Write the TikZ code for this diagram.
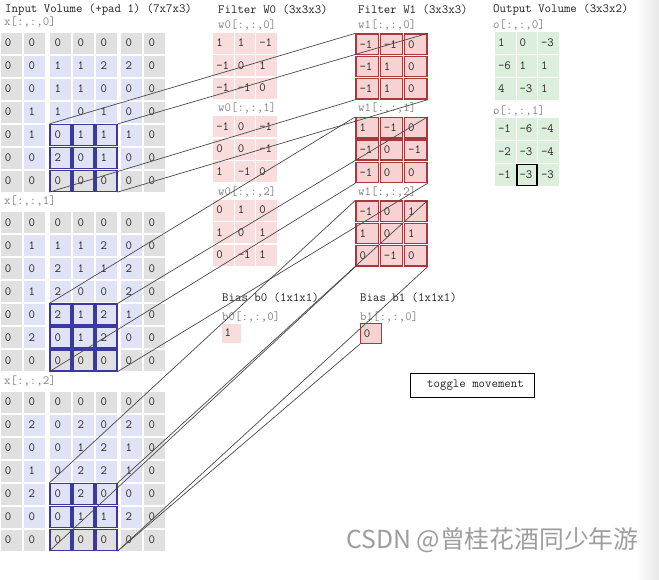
\documentclass[tikz,border=0pt]{standalone}
\usepackage{fontspec}
\newfontfamily\cjkfont{Noto Sans CJK SC}
\usetikzlibrary{fit}
\definecolor{padgrey}{HTML}{E0E0E0}
\definecolor{inblue}{HTML}{E0E2F6}
\definecolor{winblue}{HTML}{3A3A9E}
\definecolor{wpink}{HTML}{F9DCDC}
\definecolor{w1pink}{HTML}{F6D2D2}
\definecolor{wred}{HTML}{A8383C}
\definecolor{opgreen}{HTML}{DCEEDC}
\definecolor{lblgrey}{HTML}{858585}
\definecolor{titlegrey}{HTML}{222222}
\definecolor{linegrey}{HTML}{4A4A4A}

\tikzset{
  cellbase/.style={rectangle, inner ysep=0pt, align=left, text=black!85},
  incell/.style={cellbase, text width=12pt, inner xsep=4.5pt, minimum height=21pt},
  wincell/.style={draw=winblue, line width=1.2pt},
  wcell/.style={cellbase, fill=wpink, text width=14.5pt, inner xsep=3pt, minimum height=21pt},
  wonecell/.style={cellbase, fill=w1pink, draw=wred, line width=1.4pt, text width=15.3pt, inner xsep=3.5pt, minimum height=20.3pt},
  ocell/.style={cellbase, fill=opgreen, text width=15pt, inner xsep=2.75pt, minimum height=22pt},
  lbl/.style={anchor=west, inner sep=0pt, text=lblgrey},
  ttl/.style={anchor=west, inner sep=0pt, text=titlegrey},
  conn/.style={draw=linegrey, line width=0.7pt},
  fitbox/.style={inner sep=0pt, outer sep=0pt}
}

\newcommand{\inslice}[2]{%
  \node[lbl] (xl#1) at (4, 22+179.5*#1) {x[:,:,#1]};
  \foreach \rw [count=\rr from 0] in {#2} {
    \foreach \v [count=\cc from 0] in \rw {
      \pgfmathtruncatemacro\pad{(\rr==0)||(\rr==6)||(\cc==0)||(\cc==6)}
      \pgfmathtruncatemacro\inwin{(\rr>3)&&(\cc>1)&&(\cc<5)}
      \pgfmathsetmacro\cx{{11,34.5,60.5,83.5,106.5,131.5,154.5}[\cc]}
      \ifnum\pad=1 \def\fc{padgrey}\else\def\fc{inblue}\fi
      \ifnum\inwin=1 \tikzset{curwin/.style={wincell}}\else\tikzset{curwin/.style={}}\fi
      \node[incell, fill=\fc, curwin] (x#1-\rr-\cc) at (\cx,{43+179.5*#1+23*\rr}) {\v};
    }
  }
  \node[fitbox, fit=(x#1-4-2)(x#1-6-4)] (win#1) {};
}

\newcommand{\wzslice}[2]{%
  \node[lbl] (w0l#1) at (218, 25+83.5*#1) {w0[:,:,#1]};
  \foreach \rw [count=\rr from 0] in {#2} {
    \foreach \v [count=\cc from 0] in \rw {
      \node[wcell] (w0-#1-\rr-\cc) at ({223.5+21.5*\cc},{43+83.5*#1+22.5*\rr}) {\v};
    }
  }
}

\newcommand{\woslice}[2]{%
  \node[lbl] (w1l#1) at (358, 25+83.5*#1) {w1[:,:,#1]};
  \foreach \rw [count=\rr from 0] in {#2} {
    \foreach \v [count=\cc from 0] in \rw {
      \node[wonecell] (w1-#1-\rr-\cc) at ({367.2+24.33*\cc},{44.2+83.5*#1+22.33*\rr}) {\v};
    }
  }
  \node[fitbox, fit=(w1-#1-0-0)(w1-#1-2-2)] (w1box#1) {};
}

\newcommand{\oslice}[2]{%
  \node[lbl] (ol#1) at (493, 25+86*#1) {o[:,:,#1]};
  \foreach \rw [count=\rr from 0] in {#2} {
    \foreach \v [count=\cc from 0] in \rw {
      \node[ocell] (o-#1-\rr-\cc) at ({505.5+21.5*\cc},{43+86*#1+23*\rr}) {\v};
    }
  }
}

\begin{document}
\begin{tikzpicture}[x=1pt, y=-1pt, font=\ttfamily\fontsize{12.5}{14}\selectfont]
\useasboundingbox (0,0) rectangle (659,579);
\fill[white] (0,0) rectangle (659,579);
\shade[left color=white, right color=black!9] (636,0) rectangle (659,579);

% titles
\node[ttl] (t1) at (5,10) {Input Volume (+pad 1) (7x7x3)};
\node[ttl] (t2) at (218,10) {Filter W0 (3x3x3)};
\node[ttl] (t3) at (358,10) {Filter W1 (3x3x3)};
\node[ttl] (t4) at (493,10) {Output Volume (3x3x2)};

% input volume
\inslice{0}{{0,0,0,0,0,0,0},{0,0,1,1,2,2,0},{0,0,1,1,0,0,0},{0,1,1,0,1,0,0},{0,1,0,1,1,1,0},{0,0,2,0,1,0,0},{0,0,0,0,0,0,0}}
\inslice{1}{{0,0,0,0,0,0,0},{0,1,1,1,2,0,0},{0,0,2,1,1,2,0},{0,1,2,0,0,2,0},{0,0,2,1,2,1,0},{0,2,0,1,2,0,0},{0,0,0,0,0,0,0}}
\inslice{2}{{0,0,0,0,0,0,0},{0,2,0,2,0,2,0},{0,0,0,1,2,1,0},{0,1,0,2,2,1,0},{0,2,0,2,0,0,0},{0,0,0,1,1,2,0},{0,0,0,0,0,0,0}}

% filter W0
\wzslice{0}{{1,1,-1},{-1,0,1},{-1,-1,0}}
\wzslice{1}{{-1,0,-1},{0,0,-1},{1,-1,0}}
\wzslice{2}{{0,1,0},{1,0,1},{0,-1,1}}

% filter W1
\woslice{0}{{-1,-1,0},{-1,1,0},{-1,1,0}}
\woslice{1}{{1,-1,0},{-1,0,-1},{-1,0,0}}
\woslice{2}{{-1,0,1},{1,0,1},{0,-1,0}}

% output volume
\oslice{0}{{1,0,-3},{-6,1,1},{4,-3,1}}
\oslice{1}{{-1,-6,-4},{-2,-3,-4},{-1,-3,-3}}
\node[fitbox, draw=black, line width=1.2pt, fit=(o-1-2-1), inner sep=-0.5pt] (osel) {};

% biases
\node[ttl] (bt0) at (222,298) {Bias b0 (1x1x1)};
\node[lbl] (bl0) at (222,317) {b0[:,:,0]};
\node[cellbase, fill=wpink, text width=13pt, inner xsep=3pt, minimum height=19pt] (b0c) at (231,333) {1};
\node[ttl] (bt1) at (360,298) {Bias b1 (1x1x1)};
\node[lbl] (bl1) at (360,317) {b1[:,:,0]};
\node[cellbase, fill=w1pink, draw=wred, line width=1.4pt, text width=14.5pt, inner xsep=3pt, minimum height=19.5pt] (b1c) at (371,333.5) {0};

% toggle button
\node[draw=black, line width=1.4pt, minimum width=124pt, minimum height=24pt, inner sep=0pt, text=titlegrey] (tog) at (472.5,385.5) {\hspace*{6pt}toggle movement};

% connectors
\foreach \k in {0,1,2} {
  \draw[conn] (win\k.north west) -- (w1box\k.north west);
  \draw[conn] (win\k.north east) -- (w1box\k.north east);
  \draw[conn] (win\k.south west) -- (w1box\k.south west);
  \draw[conn] (win\k.south east) -- (w1box\k.south east);
}
\draw[conn] (win2.south east) -- (b1c.south west);

% watermark
\node[anchor=west, inner sep=0pt, text=black!38, font=\cjkfont\fontsize{24.8}{26}\selectfont] (wm) at (346,540) {CSDN @曾桂花酒同少年游};
\end{tikzpicture}
\end{document}
